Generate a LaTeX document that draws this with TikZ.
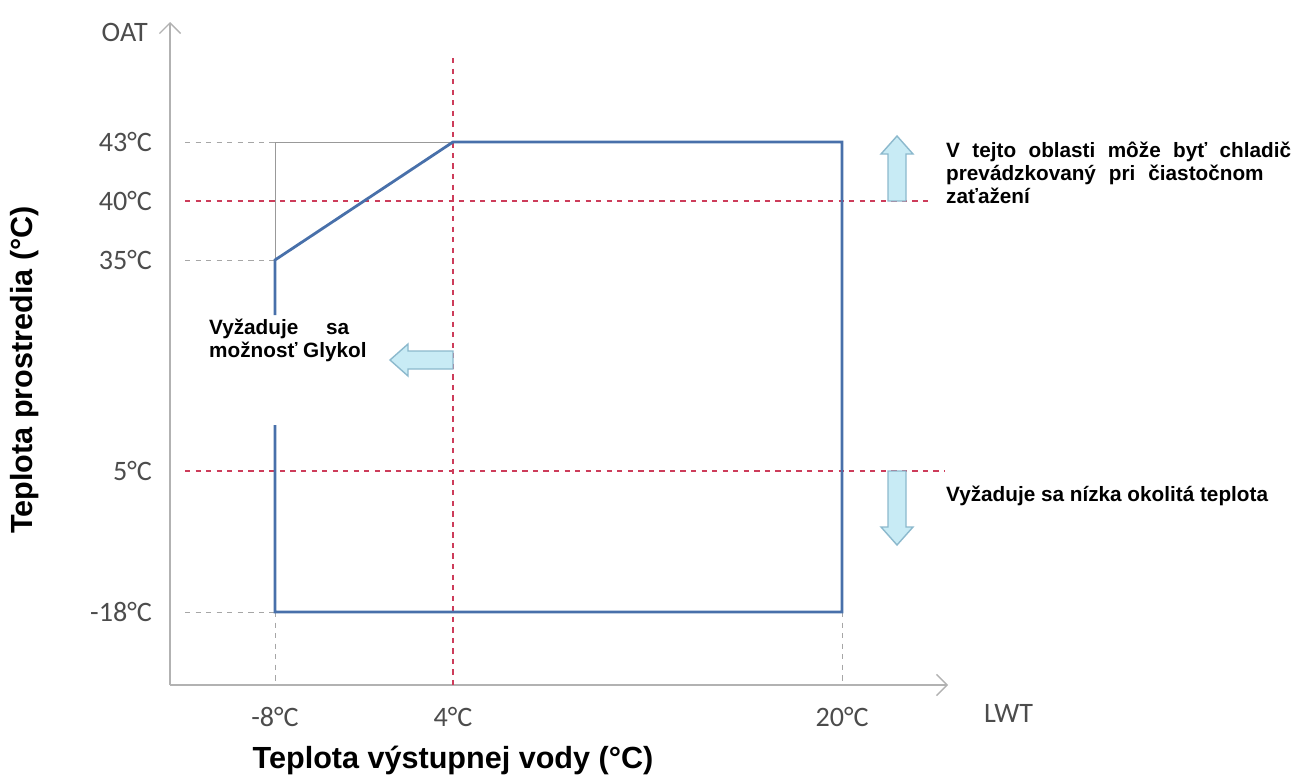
\documentclass[tikz,border=0pt]{standalone}
\usepackage{fontspec}
\setmainfont{Liberation Sans}
\newfontfamily\tickfont{Carlito}
\usetikzlibrary{arrows.meta,
                positioning}
\definecolor{envblue}{RGB}{72,112,170}
\definecolor{markred}{RGB}{205,60,90}
\definecolor{arrfill}{RGB}{200,235,245}
\definecolor{arrline}{RGB}{140,185,205}
\begin{document}
\begin{tikzpicture}[x=0.02cm, y=-0.02cm,
                    Env/.style={line width=1.6pt, draw=envblue},
                    Grid/.style={dashed, gray!70, line width=0.5pt},
                    Mark/.style={dashed, markred, line width=0.6pt},
                    Tick/.style={font=\tickfont\fontsize{16}{16}\selectfont, text=black!70},
                    Note/.style={font=\bfseries\fontsize{11.8}{13}\selectfont, align=left, anchor=north west},
                    blockarrow/.pic={
                        \draw[arrline, fill=arrfill, line width=0.8pt]
                        (0,-9) -- (\len-18,-9) -- (\len-18,-16) -- (\len,0) -- (\len-18,16) -- (\len-18,9) -- (0,9) -- cycle;
                    }
                    ]
    \useasboundingbox (0,0) rectangle (1295,781);
    % AXES %
    \coordinate (O) at (170,685);
    \coordinate (Ytop) at (170,22);
    \coordinate (Xend) at (948,685);
    \draw[gray!60, thick, -{Straight Barb[length=6pt]}] (O) -- (Ytop);
    \draw[gray!60, thick, -{Straight Barb[length=6pt]}] (O) -- (Xend);
    \node[Tick, anchor=east] (oat) at (154,32) {OAT};
    \node[Tick, anchor=west] (lwt) at (978,713) {LWT};

    % TICKS %
    \foreach \y/\t in {142/43,201/40,260/35,471/5,612/-18}{
    \node[Tick, anchor=east] (y\t) at (158,\y) {\t°C};
    }
    \foreach \x/\t in {275/-8,453/4,842/20}{
    \node[Tick] (x\t) at (\x,717) {\t°C};
    }

    % GUIDE LINES %
    \coordinate (a43) at (275,142);
    \coordinate (a35) at (275,260);
    \coordinate (a18) at (275,612);
    \coordinate (b4) at (453,142);
    \coordinate (c20) at (842,142);
    \coordinate (d18) at (842,612);
    \draw[Grid] (185,142) -- (a43);
    \draw[Grid] (185,260) -- (a35);
    \draw[Grid] (185,612) -- (a18);
    \draw[Grid] (a18) -- (275,685);
    \draw[Grid] (d18) -- (842,685);
    \draw[Mark] (185,201) -- (928,201);
    \draw[Mark] (185,471) -- (945,471);
    \draw[Mark] (453,58) -- (453,685);

    % ENVELOPE %
    \draw[gray!80, thin] (a35) -- (a43) -- (b4);
    \draw[Env] (275,315) -- (a35) -- (b4) -- (c20) -- (d18) -- (a18) -- (275,425);

    % ARROWS AND NOTES %
    \def\len{65}
    \pic[rotate=90] (up) at (897,201) {blockarrow};
    \def\len{74}
    \pic[rotate=270] (down) at (897,471) {blockarrow};
    \def\len{63}
    \pic[rotate=180] (left) at (453,360) {blockarrow};
    \node[Note] (part) at (940,136) {\makebox[6.9cm][s]{V tejto oblasti môže byť chladič}\\
                                     \makebox[6.35cm][s]{prevádzkovaný pri čiastočnom}\\
                                     zaťažení};
    \node[Note, anchor=west] (low) at (940,496) {Vyžaduje sa nízka okolitá teplota};
    \node[Note] (glyc) at (203,313) {\makebox[2.8cm][s]{Vyžaduje sa}\\ možnosť Glykol};

    % TITLES %
    \node[font=\bfseries\fontsize{17.4}{17.4}\selectfont] (xtitle) at (453,760) {Teplota výstupnej vody (°C)};
    \node[font=\bfseries\fontsize{17.4}{17.4}\selectfont, rotate=90] (ytitle) at (25,370) {Teplota prostredia (°C)};
\end{tikzpicture}
\end{document}
